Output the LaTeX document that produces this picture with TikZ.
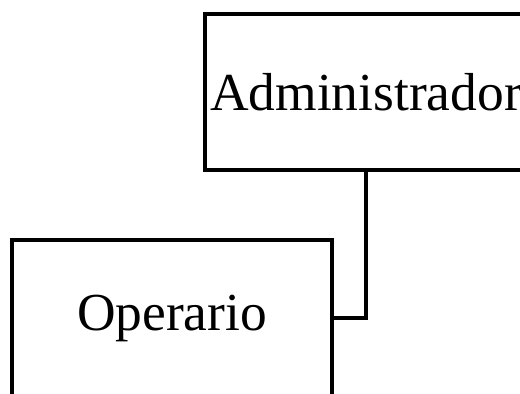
\documentclass[tikz,border=0pt]{standalone}
\usepackage{fontspec}
\setmainfont{Liberation Serif}
\usepackage{tikz}
\usetikzlibrary{positioning}

\begin{document}
\begin{tikzpicture}[
    x=0.01cm, y=-0.01cm,
    box/.style={rectangle, draw=black, line width=1.3pt, minimum width=3.2cm, minimum height=1.56cm, font=\fontsize{15.2}{18}\selectfont, align=center, inner sep=0pt},
    link/.style={line width=1.3pt}
]
    \useasboundingbox (0,0) rectangle (520,394);
    \clip (0,0) rectangle (520,394);

    \node[box, minimum width=3.22cm] (admin) at (366,92) {Administrador};
    \node[box] (oper) at (172,318) {Operario};

    \draw[link] (admin.south) |- (oper.east);
\end{tikzpicture}
\end{document}
